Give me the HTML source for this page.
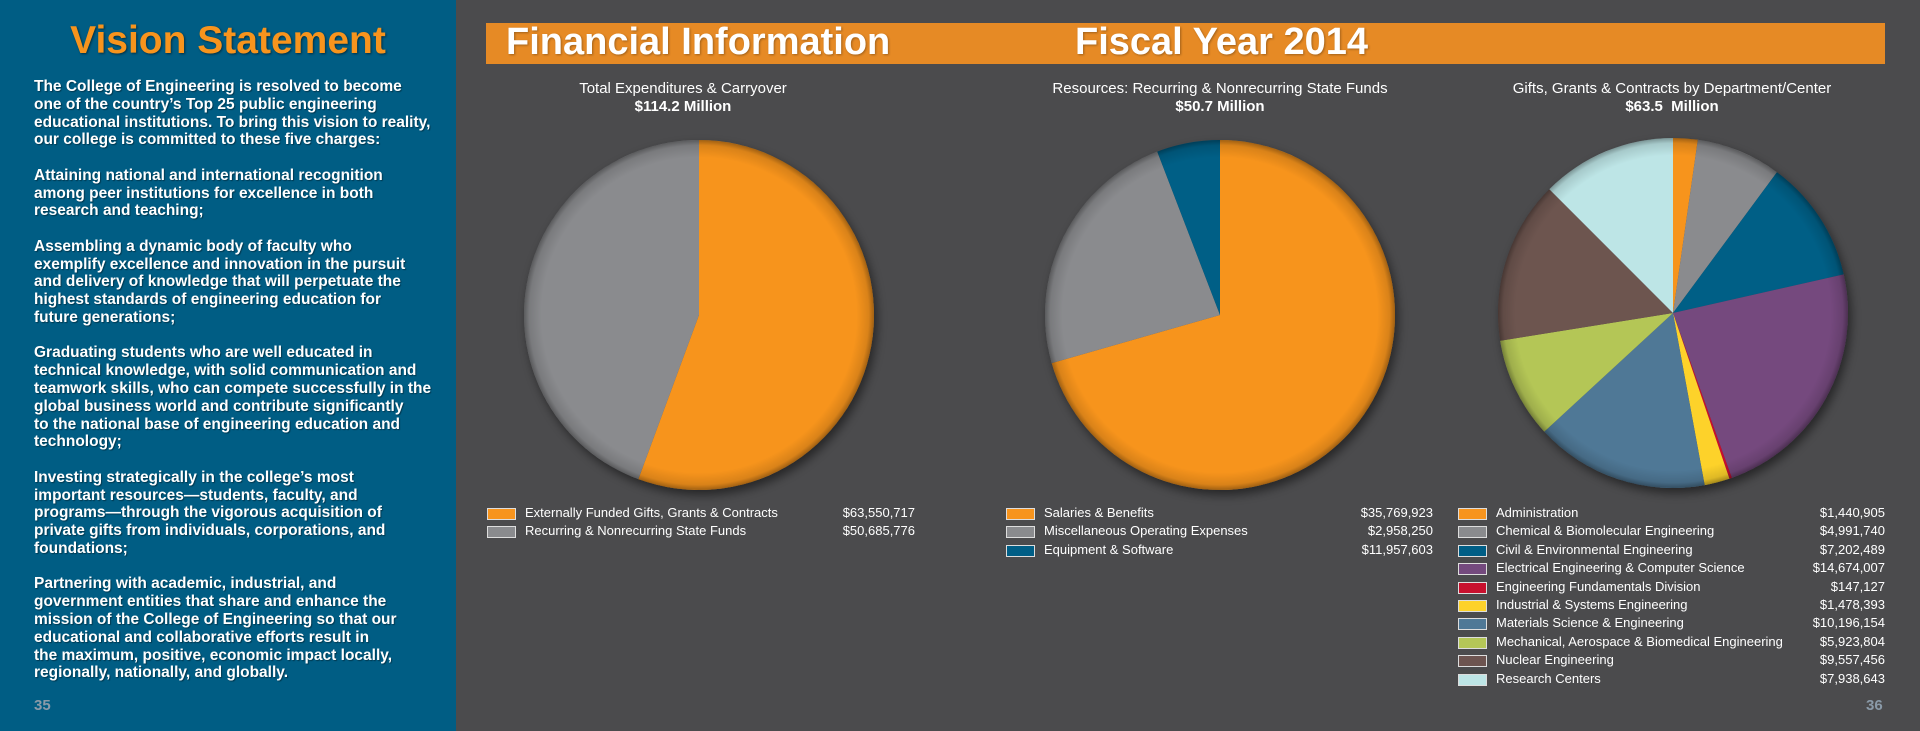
<!DOCTYPE html>
<html><head><meta charset="utf-8">
<style>
body{margin:0;width:1920px;height:731px;overflow:hidden;background:#4b4b4d;font-family:"Liberation Sans",sans-serif;position:relative}
#left{position:absolute;left:0;top:0;width:456px;height:731px;background:#005d84}
#vs{position:absolute;left:0;width:456px;top:19px;text-align:center;color:#f7941d;font-weight:bold;font-size:39px;text-shadow:1px 1px 2px rgba(0,0,0,.5)}
#body{position:absolute;left:34px;top:78px;width:470px;color:#fff;font-weight:bold;font-size:15.5px;line-height:17.76px;transform:scaleX(1.0);transform-origin:left top;text-shadow:1px 1px 1px rgba(0,0,0,.4);white-space:nowrap}
.pn{position:absolute;top:697px;color:#8a9aa8;font-weight:bold;font-size:15px}
#bar{position:absolute;left:486px;top:23px;width:1399px;height:41px;background:#e68a25}
.bt{position:absolute;top:21px;color:#fff;font-weight:bold;font-size:38px;transform:scaleX(1.0);transform-origin:left top;text-shadow:1px 1px 2px rgba(0,0,0,.3)}
.ct{position:absolute;color:#fff;font-size:15px;text-align:center;line-height:18px;width:500px}
.ct b{font-size:15px}
.lg{position:absolute;color:#fff;font-size:13px}
</style></head><body>
<div id="left"></div>
<div id="vs">Vision Statement</div>
<div id="body">The College of Engineering is resolved to become<br>one of the country’s Top 25 public engineering<br>educational institutions. To bring this vision to reality,<br>our college is committed to these five charges:<br><br>Attaining national and international recognition<br>among peer institutions for excellence in both<br>research and teaching;<br><br>Assembling a dynamic body of faculty who<br>exemplify excellence and innovation in the pursuit<br>and delivery of knowledge that will perpetuate the<br>highest standards of engineering education for<br>future generations;<br><br>Graduating students who are well educated in<br>technical knowledge, with solid communication and<br>teamwork skills, who can compete successfully in the<br>global business world and contribute significantly<br>to the national base of engineering education and<br>technology;<br><br>Investing strategically in the college’s most<br>important resources—students, faculty, and<br>programs—through the vigorous acquisition of<br>private gifts from individuals, corporations, and<br>foundations;<br><br>Partnering with academic, industrial, and<br>government entities that share and enhance the<br>mission of the College of Engineering so that our<br>educational and collaborative efforts result in<br>the maximum, positive, economic impact locally,<br>regionally, nationally, and globally.</div>
<div class="pn" style="left:34px">35</div>
<div class="pn" style="left:1866px">36</div>
<div id="bar"></div>
<div class="bt" style="left:506px">Financial Information</div>
<div class="bt" style="left:1075px">Fiscal Year 2014</div>
<div class="ct" style="left:433px;top:80px">Total Expenditures &amp; Carryover<br><b>$114.2 Million</b></div>
<div class="ct" style="left:970px;top:80px">Resources: Recurring &amp; Nonrecurring State Funds<br><b>$50.7 Million</b></div>
<div class="ct" style="left:1422px;top:80px">Gifts, Grants &amp; Contracts by Department/Center<br><b>$63.5&nbsp; Million</b></div>
<svg id="svg" width="1920" height="731" style="position:absolute;left:0;top:0">
<defs>
<filter id="sh" x="-20%" y="-20%" width="140%" height="140%"><feDropShadow dx="3" dy="5" stdDeviation="5" flood-color="#000" flood-opacity="0.5"/></filter>
<radialGradient id="bev"><stop offset="0.9" stop-color="#000" stop-opacity="0"/><stop offset="0.97" stop-color="#000" stop-opacity="0.12"/><stop offset="1" stop-color="#000" stop-opacity="0.35"/></radialGradient>
</defs>
</svg>
<script>
const cat1=["Externally Funded Gifts, Grants & Contracts","Recurring & Nonrecurring State Funds"];
const val1=[63550717,50685776];
const lab1=["$63,550,717","$50,685,776"];
const col1=["#f7941d","#8a8b8e"];
const cat2=["Salaries & Benefits","Miscellaneous Operating Expenses","Equipment & Software"];
const val2=[35769923,2958250,11957603];
const lab2=["$35,769,923","$2,958,250","$11,957,603"];
const col2=["#f7941d","#8a8b8e","#005e86"];
// slice drawing order as pictured (orange, grey, blue) with sizes from the picture
const pieVal2=[35769923,11957603,2958250];
const pieCol2=["#f7941d","#8a8b8e","#005e86"];
const cat3=["Administration","Chemical & Biomolecular Engineering","Civil & Environmental Engineering","Electrical Engineering & Computer Science","Engineering Fundamentals Division"," Industrial & Systems Engineering","Materials Science & Engineering","Mechanical, Aerospace & Biomedical Engineering","Nuclear Engineering","Research Centers"];
const val3=[1440905,4991740,7202489,14674007,147127,1478393,10196154,5923804,9557456,7938643];
const lab3=["$1,440,905","$4,991,740","$7,202,489","$14,674,007","$147,127","$1,478,393","$10,196,154","$5,923,804","$9,557,456","$7,938,643"];
const col3=["#f7941d","#8a8b8e","#005e86","#744a7e","#c8102e","#fdd22a","#4f7896","#b4c657","#6d5450","#bde5e6"];

const NS="http://www.w3.org/2000/svg";
const svg=document.getElementById('svg');
function pie(cx,cy,r,vals,cols,name){
  const g=document.createElementNS(NS,'g');
  g.setAttribute('filter','url(#sh)');
  
  
  svg.appendChild(g);
  const tot=vals.reduce((a,b)=>a+b,0);
  let a=0;
  vals.forEach((v,i)=>{
    const a0=a/tot*2*Math.PI; a+=v; const a1=a/tot*2*Math.PI;
    const x0=cx+r*Math.sin(a0),y0=cy-r*Math.cos(a0),x1=cx+r*Math.sin(a1),y1=cy-r*Math.cos(a1);
    const p=document.createElementNS(NS,'path');
    p.setAttribute('d',`M${cx},${cy}L${x0},${y0}A${r},${r} 0 ${a1-a0>Math.PI?1:0} 1 ${x1},${y1}Z`);
    p.setAttribute('fill',cols[i]);
    
    
    g.appendChild(p);
  });
  const c=document.createElementNS(NS,'circle');
  c.setAttribute('cx',cx);c.setAttribute('cy',cy);c.setAttribute('r',r);c.setAttribute('fill','url(#bev)');
  
  
  svg.appendChild(c);
}
pie(699,315,175,val1,col1,'pie-expenditures');
pie(1220,315,175,pieVal2,pieCol2,'pie-state-funds');
pie(1673,313,175,val3,col3,'pie-gifts-grants');

function legend(sx,tx,vr,cats,labs,cols,name){
  cats.forEach((c,i)=>{
    const y=508+i*18.4;
    const s=document.createElement('div');
    
    
    s.style.cssText=`position:absolute;left:${sx}px;top:${y}px;width:27px;height:10px;background:${cols[i]};border:1px solid #ddd`;
    document.body.appendChild(s);
    const t=document.createElement('div');
    
    
    t.className='lg';t.style.left=tx+'px';t.style.top=(y-3)+'px';t.textContent=c;
    document.body.appendChild(t);
    const v=document.createElement('div');
    
    
    v.className='lg';v.style.right=(1920-vr)+'px';v.style.top=(y-3)+'px';v.textContent=labs[i];
    document.body.appendChild(v);
  });
}
legend(487,525,915,cat1,lab1,col1,'legend1');
legend(1006,1044,1433,cat2,lab2,col2,'legend2');
legend(1458,1496,1885,cat3,lab3,col3,'legend3');
</script>
</body></html>
